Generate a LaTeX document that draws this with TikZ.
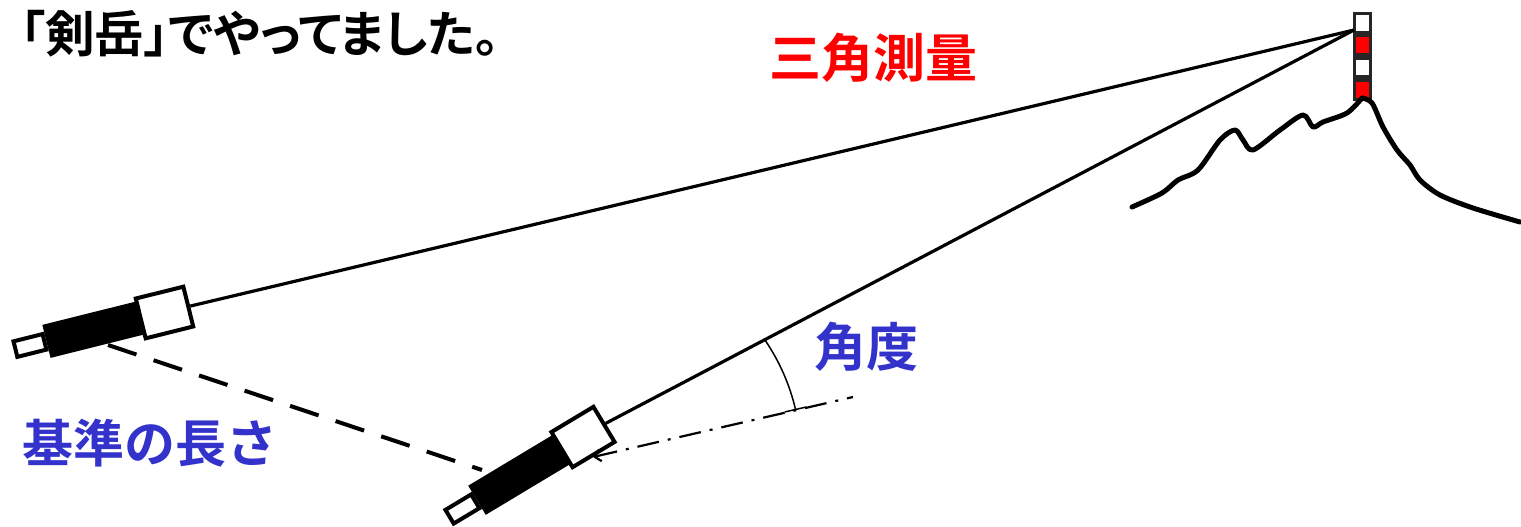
\documentclass[tikz,border=0pt]{standalone}
\usepackage{fontspec}
\newfontfamily\jp{Noto Sans CJK JP}[BoldFont={Noto Sans CJK JP Bold}]
\newfontfamily\jpprop{Noto Sans CJK JP}[BoldFont={Noto Sans CJK JP Bold}, RawFeature=+palt]
\usetikzlibrary{arrows.meta,calc}
\definecolor{labelblue}{RGB}{51,51,204}
\definecolor{labelred}{RGB}{255,0,0}
\tikzset{
  scopebox/.style={draw=black, fill=white, line width=2pt, minimum width=24.5pt, minimum height=20.5pt, inner sep=0pt},
  tube/.style={draw=black, fill=black, line width=2pt, minimum width=47pt, minimum height=15pt, inner sep=0pt},
  eyepiece/.style={draw=black, fill=white, line width=2pt, minimum width=15pt, minimum height=8pt, inner sep=0pt},
  polebox/.style={draw=black!85, line width=1.6pt, minimum width=8pt, minimum height=9.5pt, inner sep=0pt},
  sight/.style={line width=1.6pt},
  baseline/.style={line width=2pt, dash pattern=on 15pt off 9pt},
  refline/.style={line width=1.1pt, dash pattern=on 11pt off 4.5pt on 1.5pt off 4.5pt},
  ridge/.style={line width=2.5pt, line join=round, line cap=round},
  jlabel/.style={font=\jp\bfseries\fontsize{26}{26}\selectfont, inner sep=0pt}
}
\begin{document}
\begin{tikzpicture}[x=0.5pt,y=-0.5pt]
\useasboundingbox (0,0) rectangle (1521,526);

% signal pole on the summit
\node[polebox, fill=white] (p1) at (1362.5,23) {};
\node[polebox, fill=labelred, anchor=north] (p2) at (p1.south) {};
\node[polebox, fill=white, anchor=north] (p3) at (p2.south) {};
\node[polebox, fill=labelred, anchor=north] (p4) at (p3.south) {};
\coordinate (apex) at (1354,30);

% mountain ridge
\draw[ridge] plot[smooth, tension=0.5] coordinates {(1132,207) (1162,193) (1178,180) (1198,170) (1220,140) (1235,130) (1243,140) (1253,150) (1280,130) (1303,115) (1313,127) (1323,122) (1347,113) (1362,98)};
\draw[ridge] plot[smooth, tension=0.5] coordinates {(1362,98) (1372,103) (1383,127) (1397,150) (1410,165) (1420,180) (1440,195) (1473,208) (1520,222)};

% first telescope (left)
\node[tube, rotate=14] (tubeA) at (94,329.5) {};
\node[eyepiece, rotate=14, anchor=east] (eyeA) at (tubeA.west) {};
\node[scopebox, rotate=14] (boxA) at (164.5,312.5) {};

% second telescope (right)
\node[tube, rotate=31] (tubeB) at (519,475) {};
\node[eyepiece, rotate=31, anchor=east] (eyeB) at (tubeB.west) {};
\node[scopebox, rotate=31] (boxB) at (583,437) {};

% lines of sight to the pole
\draw[sight] (boxA.east) -- (apex);
\draw[sight] (boxB.east) -- (apex);

% baseline between the two stations
\coordinate (baseA) at (108,345);
\coordinate (baseB) at (482,470);
\draw[baseline] (baseA) -- (baseB);

% reference direction and measured angle
\coordinate (vtx) at (593,457);
\coordinate (refend) at (853,397);
\draw[refline, {Straight Barb[length=3pt,width=6pt]}-] (vtx) -- (refend);
\draw[line width=0.75pt, -{Bar[width=11pt]}] ($(vtx)+(-34:208)$) arc[start angle=-34, end angle=-13, radius=208];

% labels
\node[font=\jpprop\bfseries\fontsize{24.8}{24.8}\selectfont, inner sep=0pt, text height=21.8pt, text depth=3pt, anchor=west] (title) at (20,33.8) {「剣岳」でやってました。};
\node[jlabel, text=labelred] (method) at (873,58) {三角測量};
\node[jlabel, text=labelblue] (angle) at (866,347) {角度};
\node[jlabel, text=labelblue, font=\jp\bfseries\fontsize{25.5}{25.5}\selectfont] (base) at (150,443) {基準の長さ};
\end{tikzpicture}
\end{document}
